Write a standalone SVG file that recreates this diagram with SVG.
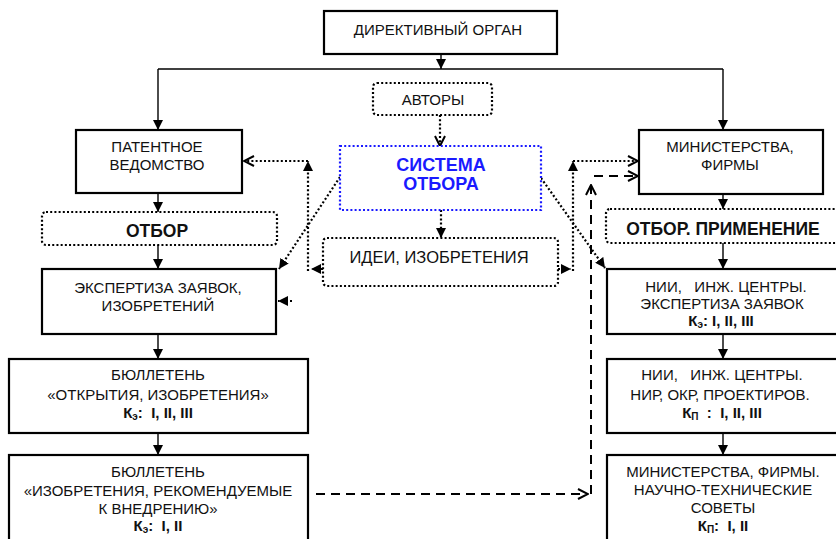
<svg xmlns="http://www.w3.org/2000/svg" width="836" height="539" viewBox="0 0 836 539">
<style>
.box{fill:#fff;stroke:#000;stroke-width:2.2}
.dbox{fill:#fff;stroke:#000;stroke-width:2.2;stroke-dasharray:2 2.2}
.bbox{fill:#fff;stroke:#1a1aff;stroke-width:2.2;stroke-dasharray:2 2.2}
text{font-family:"Liberation Sans",Arial,sans-serif;text-anchor:middle;white-space:pre;fill:#111}
.t{font-size:15px}
.ti{font-size:16.5px}
.tb{font-size:17.5px;font-weight:bold}
.tk{font-size:15px;font-weight:bold}
.tblue{font-size:18px;font-weight:bold;fill:#1a1aff}
.sol{fill:none;stroke:#000;stroke-width:1.4}
.dot{fill:none;stroke:#000;stroke-width:2.2;stroke-dasharray:2 2.2}
.dash{fill:none;stroke:#000;stroke-width:2;stroke-dasharray:9 6}
</style>
<defs>
<marker id="fa" viewBox="0 0 10 10" refX="10" refY="5" markerWidth="10" markerHeight="10" markerUnits="userSpaceOnUse" orient="auto"><path d="M0,0 L10,5 L0,10 z" fill="#000"/></marker>
<marker id="oa" viewBox="0 0 12 12" refX="11" refY="6" markerWidth="12" markerHeight="12" markerUnits="userSpaceOnUse" orient="auto"><path d="M1,1 L11,6 L1,11" fill="none" stroke="#000" stroke-width="2"/></marker>
</defs>

<g id="connectors">
<path class="sol" d="M441,54 V69" marker-end="url(#fa)"/>
<path class="sol" d="M158,69 H723"/>
<path class="sol" d="M158,69 V130" marker-end="url(#fa)"/>
<path class="sol" d="M723,69 V130" marker-end="url(#fa)"/>
<path class="dot" d="M440,115 V146" marker-end="url(#oa)"/>
<path class="dot" d="M441,210 V238" marker-end="url(#fa)"/>
<path class="dot" d="M323,269 H311" marker-end="url(#fa)"/>
<path class="dot" d="M308,271 V161" marker-end="url(#fa)"/>
<path class="dot" d="M308,161 H244" marker-end="url(#oa)"/>
<path class="dot" d="M558,269 H571" marker-end="url(#fa)"/>
<path class="dot" d="M573,271 V161" marker-end="url(#fa)"/>
<path class="dot" d="M573,161 H638" marker-end="url(#oa)"/>
<path class="dot" d="M340,177 L279,269" marker-end="url(#fa)"/>
<path class="dot" d="M541,178 L605,268" marker-end="url(#fa)"/>
<path class="dot" d="M292,301 H278" marker-end="url(#fa)"/>
<path class="sol" d="M158,193 V212" marker-end="url(#fa)"/>
<path class="sol" d="M158,245 V269" marker-end="url(#fa)"/>
<path class="sol" d="M158,334 V359" marker-end="url(#fa)"/>
<path class="sol" d="M158,433 V455" marker-end="url(#fa)"/>
<path class="sol" d="M723,194 V209" marker-end="url(#fa)"/>
<path class="sol" d="M723,243 V269" marker-end="url(#fa)"/>
<path class="sol" d="M723,334 V359" marker-end="url(#fa)"/>
<path class="sol" d="M723,433 V455" marker-end="url(#fa)"/>
<path class="dash" d="M316,494 H588" marker-end="url(#oa)"/>
<path class="dash" d="M591,494 V185" marker-end="url(#oa)"/>
<path class="dash" d="M594,176 H638" marker-end="url(#oa)"/>
</g>

<g id="directive">
<rect class="box" x="324" y="11" width="233" height="43"/>
<text class="t" x="438" y="35">ДИРЕКТИВНЫЙ ОРГАН</text>
</g>

<g id="authors">
<rect class="dbox" x="373" y="83" width="119" height="32" rx="4"/>
<text class="t" x="433" y="105">АВТОРЫ</text>
</g>

<g id="system">
<rect class="bbox" x="340" y="146" width="201" height="64"/>
<text class="tblue" x="441" y="171">СИСТЕМА</text>
<text class="tblue" x="441" y="190">ОТБОРА</text>
</g>

<g id="ideas">
<rect class="dbox" x="323" y="238" width="235" height="48" rx="4"/>
<text class="ti" x="439" y="263">ИДЕИ, ИЗОБРЕТЕНИЯ</text>
</g>

<g id="patent">
<rect class="box" x="76" y="130" width="166" height="63"/>
<text class="t" x="157" y="152">ПАТЕНТНОЕ</text>
<text class="t" x="157" y="170">ВЕДОМСТВО</text>
</g>

<g id="otbor">
<rect class="dbox" x="42" y="212" width="235" height="33" rx="4"/>
<text class="tb" x="157" y="237">ОТБОР</text>
</g>

<g id="expertiza">
<rect class="box" x="42" y="269" width="234" height="65"/>
<text class="t" x="158" y="293">ЭКСПЕРТИЗА ЗАЯВОК,</text>
<text class="t" x="158" y="311">ИЗОБРЕТЕНИЙ</text>
</g>

<g id="bulletin1">
<rect class="box" x="9" y="359" width="299" height="74"/>
<text class="t" x="158" y="380">БЮЛЛЕТЕНЬ</text>
<text class="t" x="158" y="400">«ОТКРЫТИЯ, ИЗОБРЕТЕНИЯ»</text>
<text class="tk" x="158" y="418">К<tspan font-size="10" dy="2">э</tspan><tspan dy="-2">:  I, II, III</tspan></text>
</g>

<g id="bulletin2">
<rect class="box" x="9" y="455" width="299" height="100"/>
<text class="t" x="158" y="477">БЮЛЛЕТЕНЬ</text>
<text class="t" x="158" y="496">«ИЗОБРЕТЕНИЯ, РЕКОМЕНДУЕМЫЕ</text>
<text class="t" x="158" y="514">К ВНЕДРЕНИЮ»</text>
<text class="tk" x="158" y="531">К<tspan font-size="10" dy="2">э</tspan><tspan dy="-2">:  I, II</tspan></text>
</g>

<g id="ministry">
<rect class="box" x="639" y="130" width="184" height="64"/>
<text class="t" x="730" y="152">МИНИСТЕРСТВА,</text>
<text class="t" x="730" y="170">ФИРМЫ</text>
</g>

<g id="otbor-primenenie">
<rect class="dbox" x="606" y="209" width="240" height="34" rx="4"/>
<text class="tb" x="723" y="235">ОТБОР. ПРИМЕНЕНИЕ</text>
</g>

<g id="nii1">
<rect class="box" x="607" y="269" width="240" height="65"/>
<text class="t" x="726" y="292">НИИ,   ИНЖ. ЦЕНТРЫ.</text>
<text class="t" x="722" y="309">ЭКСПЕРТИЗА ЗАЯВОК</text>
<text class="tk" x="721" y="326">К<tspan font-size="10" dy="2">э</tspan><tspan dy="-2">: I, II, III</tspan></text>
</g>

<g id="nii2">
<rect class="box" x="607" y="359" width="240" height="74"/>
<text class="t" x="722" y="380">НИИ,   ИНЖ. ЦЕНТРЫ.</text>
<text class="t" x="720" y="400">НИР, ОКР, ПРОЕКТИРОВ.</text>
<text class="tk" x="722" y="418">К<tspan font-size="10" dy="2">П</tspan><tspan dy="-2">  :  I, II, III</tspan></text>
</g>

<g id="ministry2">
<rect class="box" x="607" y="455" width="240" height="100"/>
<text class="t" x="723" y="477">МИНИСТЕРСТВА, ФИРМЫ.</text>
<text class="t" x="723" y="495">НАУЧНО-ТЕХНИЧЕСКИЕ</text>
<text class="t" x="723" y="513">СОВЕТЫ</text>
<text class="tk" x="723" y="531">К<tspan font-size="10" dy="2">П</tspan><tspan dy="-2">:  I, II</tspan></text>
</g>
</svg>
